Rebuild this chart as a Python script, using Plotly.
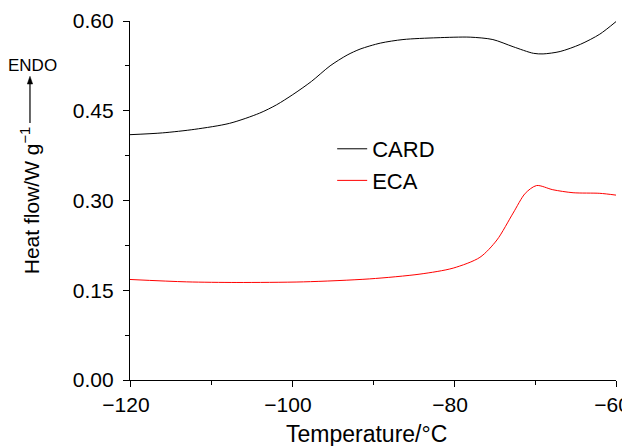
import plotly.graph_objects as go

# CARD curve (temperature °C, heat flow W/g)
card_t = [-120, -116, -112.0, -107.7, -104.0, -101.9, -99.9, -97.6, -95.3, -93.2, -91.6,
          -89.1, -86.3, -82.1, -78.0, -75.2, -72.7, -70.2, -69.0, -66.9, -64.4, -62.0, -60.0]
card_y = [0.410, 0.413, 0.419, 0.429, 0.446, 0.460, 0.477, 0.499, 0.525, 0.543, 0.553,
          0.563, 0.569, 0.572, 0.573, 0.569, 0.557, 0.546, 0.545, 0.549, 0.561, 0.578, 0.599]

# ECA curve
eca_t = [-120, -113.0, -106.8, -98.6, -90.4, -84.2, -80.1, -76.8, -74.7, -72.7, -71.2,
         -69.8, -67.8, -65.3, -62.0, -60.0]
eca_y = [0.168, 0.164, 0.163, 0.164, 0.169, 0.177, 0.187, 0.205, 0.234, 0.279, 0.312,
         0.325, 0.318, 0.313, 0.312, 0.309]

x_ticks = [-120, -100, -80, -60]
y_ticks = [0.00, 0.15, 0.30, 0.45, 0.60]

FONT = "Liberation Sans, Arial, sans-serif"

fig = go.Figure()
fig.add_trace(go.Scatter(x=card_t, y=card_y, mode="lines", name="CARD",
                         line=dict(color="black", width=1, shape="spline", smoothing=0.8)))
fig.add_trace(go.Scatter(x=eca_t, y=eca_y, mode="lines", name="ECA",
                         line=dict(color="#ff0000", width=1, shape="spline", smoothing=0.8)))

# page body has an 8px margin: the figure is drawn from (8,8)
fig.update_layout(
    width=630, height=446,
    margin=dict(l=122, r=22, t=13, b=74, autoexpand=False),
    paper_bgcolor="white", plot_bgcolor="white",
    font=dict(family=FONT, size=21, color="black"),
    showlegend=True,
    legend=dict(x=0.416, y=0.702, xanchor="left", yanchor="top",
                bgcolor="rgba(0,0,0,0)", font=dict(size=22), tracegroupgap=0),
    xaxis=dict(range=[-120, -60], tickvals=x_ticks, showgrid=False, zeroline=False,
               automargin=False, ticklabeloverflow="allow", ticklabelshift=-4,
               showline=True, linecolor="black", linewidth=1.3,
               ticks="outside", ticklen=6, tickwidth=1.3, tickcolor="black",
               tickfont=dict(size=21),
               minor=dict(dtick=10, tick0=-120, ticks="outside", ticklen=4, tickwidth=1.3, tickcolor="black")),
    yaxis=dict(range=[0, 0.6], tickvals=y_ticks, tickformat=".2f", showgrid=False, zeroline=False,
               automargin=False, ticklabeloverflow="allow", ticklabelstandoff=5,
               showline=True, linecolor="black", linewidth=1.3,
               ticks="outside", ticklen=6, tickwidth=1.3, tickcolor="black",
               tickfont=dict(size=21),
               minor=dict(dtick=0.075, tick0=0, ticks="outside", ticklen=4, tickwidth=1.3, tickcolor="black"),
               title=dict(text="Heat flow/W g<sup>−1</sup>", standoff=27, font=dict(size=21))),
)

# x-axis title
fig.add_annotation(x=0.4856, y=-0.150, xref="paper", yref="paper", text="Temperature/°C",
                   showarrow=False, font=dict(size=23), xanchor="center", yanchor="middle")

# ENDO label and upward arrow
fig.add_annotation(x=-0.1996, y=0.877, xref="paper", yref="paper", text="ENDO",
                   showarrow=False, font=dict(size=17), xanchor="center", yanchor="middle")
ax_x = -0.2058
fig.add_shape(type="line", xref="paper", yref="paper", x0=ax_x, x1=ax_x, y0=0.7159, y1=0.826,
              line=dict(color="black", width=1.2))
fig.add_shape(type="path", xref="paper", yref="paper",
              path=f"M {ax_x - 0.0055},0.8245 L {ax_x + 0.0055},0.8245 L {ax_x},0.846 Z",
              fillcolor="black", line=dict(color="black", width=0.5))

fig.write_html("out.html")
